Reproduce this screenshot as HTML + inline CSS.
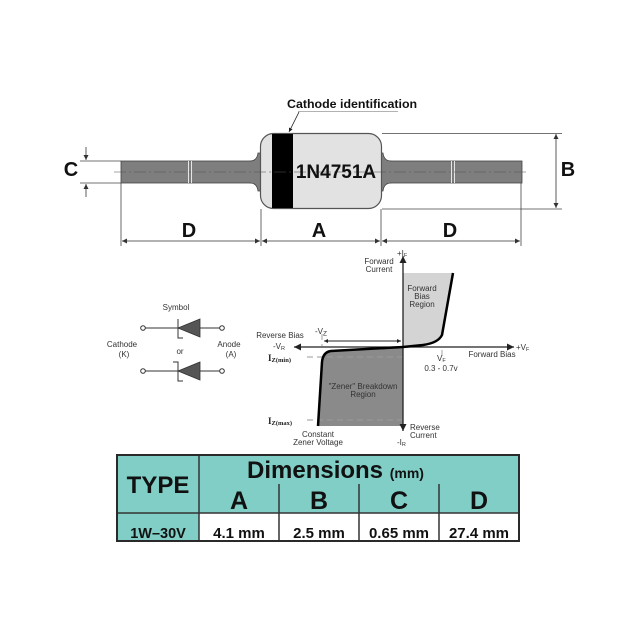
<!DOCTYPE html>
<html><head><meta charset="utf-8"><style>
html,body{margin:0;padding:0;background:#fff;}
svg{display:block;}
text{font-family:"Liberation Sans",Arial,sans-serif;}
.b{font-weight:bold;fill:#111;}
.s{font-size:8px;fill:#333;}
.sf{font-family:"Liberation Serif",serif;fill:#222;}
</style></head><body>
<svg width="640" height="640" viewBox="0 0 640 640" xmlns="http://www.w3.org/2000/svg">
<defs>
<marker id="ar" viewBox="0 0 10 10" refX="10" refY="5" markerUnits="userSpaceOnUse" markerWidth="8" markerHeight="5" orient="auto-start-reverse"><path d="M0,0 L10,5 L0,10 z" fill="#333"/></marker>
<marker id="ax" viewBox="0 0 10 10" refX="10" refY="5" markerUnits="userSpaceOnUse" markerWidth="10" markerHeight="7" orient="auto-start-reverse"><path d="M0,0 L10,5 L0,10 z" fill="#222"/></marker>
<marker id="sm" viewBox="0 0 10 10" refX="10" refY="5" markerUnits="userSpaceOnUse" markerWidth="6" markerHeight="4" orient="auto-start-reverse"><path d="M0,0 L10,5 L0,10 z" fill="#222"/></marker>
</defs>
<rect width="640" height="640" fill="#fff"/>

<!-- ===== Diode drawing ===== -->
<!-- leads -->
<rect x="121" y="161" width="136" height="22" fill="#7e7e7e" stroke="#444" stroke-width="0.8"/>
<rect x="384" y="161" width="138" height="22" fill="#7e7e7e" stroke="#444" stroke-width="0.8"/>
<path d="M250,161 Q257,161 258,153 L263,153 L263,191 L258,191 Q257,183 250,183 Z" fill="#7e7e7e" stroke="#444" stroke-width="0.8"/>
<path d="M391,161 Q384,161 383,153 L378,153 L378,191 L383,191 Q384,183 391,183 Z" fill="#7e7e7e" stroke="#444" stroke-width="0.8"/>
<rect x="249" y="161.5" width="12" height="21" fill="#7e7e7e"/>
<rect x="380" y="161.5" width="12" height="21" fill="#7e7e7e"/>
<!-- lead marks -->
<line x1="188.5" y1="161" x2="188.5" y2="183" stroke="#e6e6e6" stroke-width="1"/>
<line x1="191.5" y1="161" x2="191.5" y2="183" stroke="#e6e6e6" stroke-width="1"/>
<line x1="451.5" y1="161" x2="451.5" y2="183" stroke="#e6e6e6" stroke-width="1"/>
<line x1="454.5" y1="161" x2="454.5" y2="183" stroke="#e6e6e6" stroke-width="1"/>
<!-- body -->
<rect x="260.5" y="133.5" width="121" height="75" rx="13" fill="#e2e2e2" stroke="#555" stroke-width="1.2"/>
<rect x="272" y="134" width="21" height="74" fill="#000"/>
<!-- centerline -->
<line x1="114" y1="172" x2="528" y2="172" stroke="#555" stroke-width="0.8" stroke-dasharray="12,3,2,3" opacity="0.7"/>
<text x="336" y="178" class="b" font-size="19" text-anchor="middle">1N4751A</text>

<!-- cathode identification -->
<text x="287" y="108" class="b" font-size="12.4">Cathode identification</text>
<line x1="298" y1="111.5" x2="398" y2="111.5" stroke="#999" stroke-width="0.8"/>
<line x1="299" y1="112" x2="289" y2="132" stroke="#222" stroke-width="0.8" marker-end="url(#sm)"/>

<!-- extension lines -->
<g stroke="#444" stroke-width="0.8">
<line x1="121" y1="183" x2="121" y2="246"/>
<line x1="261" y1="209" x2="261" y2="246"/>
<line x1="381" y1="209" x2="381" y2="246"/>
<line x1="521" y1="183" x2="521" y2="246"/>
<line x1="382" y1="133.5" x2="562" y2="133.5"/>
<line x1="382" y1="209" x2="562" y2="209"/>
<line x1="80" y1="161" x2="121" y2="161"/>
<line x1="80" y1="183" x2="121" y2="183"/>
</g>
<!-- dimension lines -->
<g stroke="#333" stroke-width="0.8">
<line x1="122" y1="241" x2="260" y2="241" marker-start="url(#ar)" marker-end="url(#ar)"/>
<line x1="262" y1="241" x2="380" y2="241" marker-start="url(#ar)" marker-end="url(#ar)"/>
<line x1="382" y1="241" x2="520" y2="241" marker-start="url(#ar)" marker-end="url(#ar)"/>
<line x1="556" y1="134" x2="556" y2="208" marker-start="url(#ar)" marker-end="url(#ar)"/>
<line x1="86" y1="147" x2="86" y2="160" marker-end="url(#ar)"/>
<line x1="86" y1="197" x2="86" y2="184" marker-end="url(#ar)"/>
</g>
<text x="189" y="237" class="b" font-size="20" text-anchor="middle">D</text>
<text x="319" y="237" class="b" font-size="20" text-anchor="middle">A</text>
<text x="450" y="237" class="b" font-size="20" text-anchor="middle">D</text>
<text x="568" y="176" class="b" font-size="20" text-anchor="middle">B</text>
<text x="71" y="176" class="b" font-size="20" text-anchor="middle">C</text>

<!-- ===== Symbol ===== -->
<text x="176" y="310" class="s" font-size="8.5" text-anchor="middle">Symbol</text>
<g stroke="#333" stroke-width="1" fill="none">
<circle cx="143" cy="328" r="2.3" fill="#fff"/>
<line x1="145.3" y1="328" x2="178" y2="328"/>
<line x1="200" y1="328" x2="219.7" y2="328"/>
<circle cx="222" cy="328" r="2.3" fill="#fff"/>
<path d="M178,319 L178,338 L183,338"/>
<circle cx="143" cy="371" r="2.3" fill="#fff"/>
<line x1="145.3" y1="371" x2="178" y2="371"/>
<line x1="200" y1="371" x2="219.7" y2="371"/>
<circle cx="222" cy="371" r="2.3" fill="#fff"/>
<path d="M173,362 L178,362 L178,381 L183,381"/>
</g>
<path d="M178,328 L200,319 L200,337 Z" fill="#555" stroke="#333" stroke-width="0.8"/>
<path d="M178,371 L200,362 L200,380 Z" fill="#555" stroke="#333" stroke-width="0.8"/>
<text x="122" y="347" class="s" font-size="8.5" text-anchor="middle">Cathode</text>
<text x="124" y="357" class="s" font-size="8.5" text-anchor="middle">(K)</text>
<text x="180" y="354" class="s" font-size="8.5" text-anchor="middle">or</text>
<text x="229" y="347" class="s" font-size="8.5" text-anchor="middle">Anode</text>
<text x="231" y="357" class="s" font-size="8.5" text-anchor="middle">(A)</text>

<!-- ===== Graph ===== -->
<path d="M403,273 L453,273 L442,335 Q438,343 423,345 L403,347 Z" fill="#d4d4d4"/>
<path d="M403,347 L331,351 Q323,352 322,362 L319,426 L403,426 Z" fill="#8a8a8a"/>
<g stroke="#999" stroke-width="0.9" stroke-dasharray="6,4" fill="none">
<line x1="307" y1="357" x2="407" y2="357"/>
<line x1="307" y1="420" x2="407" y2="420"/>
<line x1="322" y1="334" x2="322" y2="346"/>
<line x1="442" y1="350" x2="442" y2="358"/>
</g>
<line x1="403" y1="431" x2="403" y2="256" stroke="#222" stroke-width="1.3" marker-start="url(#ax)" marker-end="url(#ax)"/>
<line x1="294" y1="347" x2="514" y2="347" stroke="#222" stroke-width="1.3" marker-start="url(#ax)" marker-end="url(#ax)"/>
<line x1="324" y1="341" x2="401" y2="341" stroke="#222" stroke-width="0.9" marker-start="url(#sm)" marker-end="url(#sm)"/>
<path d="M453,273 L442,335 Q438,343 423,345 L403,347 L331,351 Q323,352 322,362 L318,426" fill="none" stroke="#000" stroke-width="2.5" stroke-linejoin="round"/>

<text x="397" y="256" class="s">+I<tspan font-size="5.5" dy="1">F</tspan></text>
<text x="379" y="264" class="s" text-anchor="middle">Forward</text>
<text x="379" y="272" class="s" text-anchor="middle">Current</text>
<text x="422" y="291" class="s" text-anchor="middle">Forward</text>
<text x="422" y="299" class="s" text-anchor="middle">Bias</text>
<text x="422" y="307" class="s" text-anchor="middle">Region</text>
<text x="280" y="338" class="s" text-anchor="middle">Reverse Bias</text>
<text x="273" y="349" class="s">-V<tspan font-size="5.5" dy="1">R</tspan></text>
<text x="315" y="334" class="s" font-size="9">-V<tspan font-size="6.5" dy="1.5">Z</tspan></text>
<text x="516" y="350" class="s">+V<tspan font-size="5.5" dy="1">F</tspan></text>
<text x="492" y="357" class="s" text-anchor="middle">Forward Bias</text>
<text x="268" y="361" class="sf" font-size="9" font-weight="bold">I<tspan font-size="6.5" dy="1">Z(min)</tspan></text>
<text x="268" y="424" class="sf" font-size="9" font-weight="bold">I<tspan font-size="6.5" dy="1">Z(max)</tspan></text>
<text x="437" y="361" class="s">V<tspan font-size="5.5" dy="1">F</tspan></text>
<text x="441" y="371" class="s" text-anchor="middle">0.3 - 0.7v</text>
<text x="363" y="389" class="s" text-anchor="middle">"Zener" Breakdown</text>
<text x="363" y="397" class="s" text-anchor="middle">Region</text>
<text x="318" y="437" class="s" text-anchor="middle">Constant</text>
<text x="318" y="445" class="s" text-anchor="middle">Zener Voltage</text>
<text x="410" y="430" class="s">Reverse</text>
<text x="410" y="438" class="s">Current</text>
<text x="397" y="445" class="s">-I<tspan font-size="5.5" dy="1">R</tspan></text>

<!-- ===== Table ===== -->
<rect x="117" y="455" width="402" height="86" fill="#80cec6"/>
<rect x="199" y="513" width="320" height="28" fill="#fff"/>
<g stroke="#333" stroke-width="1.5">
<line x1="199" y1="455" x2="199" y2="541"/>
<line x1="117" y1="513" x2="519" y2="513"/>
<line x1="279" y1="484" x2="279" y2="541"/>
<line x1="359" y1="484" x2="359" y2="541"/>
<line x1="439" y1="484" x2="439" y2="541"/>
</g>
<rect x="117" y="455" width="402" height="86" fill="none" stroke="#2a2a2a" stroke-width="2"/>
<text x="158" y="493" class="b" font-size="24" text-anchor="middle">TYPE</text>
<text x="247" y="478" class="b" font-size="24">Dimensions <tspan font-size="14">(mm)</tspan></text>
<text x="239" y="509" class="b" font-size="25" text-anchor="middle">A</text>
<text x="319" y="509" class="b" font-size="25" text-anchor="middle">B</text>
<text x="399" y="509" class="b" font-size="25" text-anchor="middle">C</text>
<text x="479" y="509" class="b" font-size="25" text-anchor="middle">D</text>
<text x="158" y="538" class="b" font-size="14.5" text-anchor="middle">1W–30V</text>
<text x="239" y="538" class="b" font-size="15" text-anchor="middle">4.1 mm</text>
<text x="319" y="538" class="b" font-size="15" text-anchor="middle">2.5 mm</text>
<text x="399" y="538" class="b" font-size="15" text-anchor="middle">0.65 mm</text>
<text x="479" y="538" class="b" font-size="15" text-anchor="middle">27.4 mm</text>
</svg>
</body></html>
